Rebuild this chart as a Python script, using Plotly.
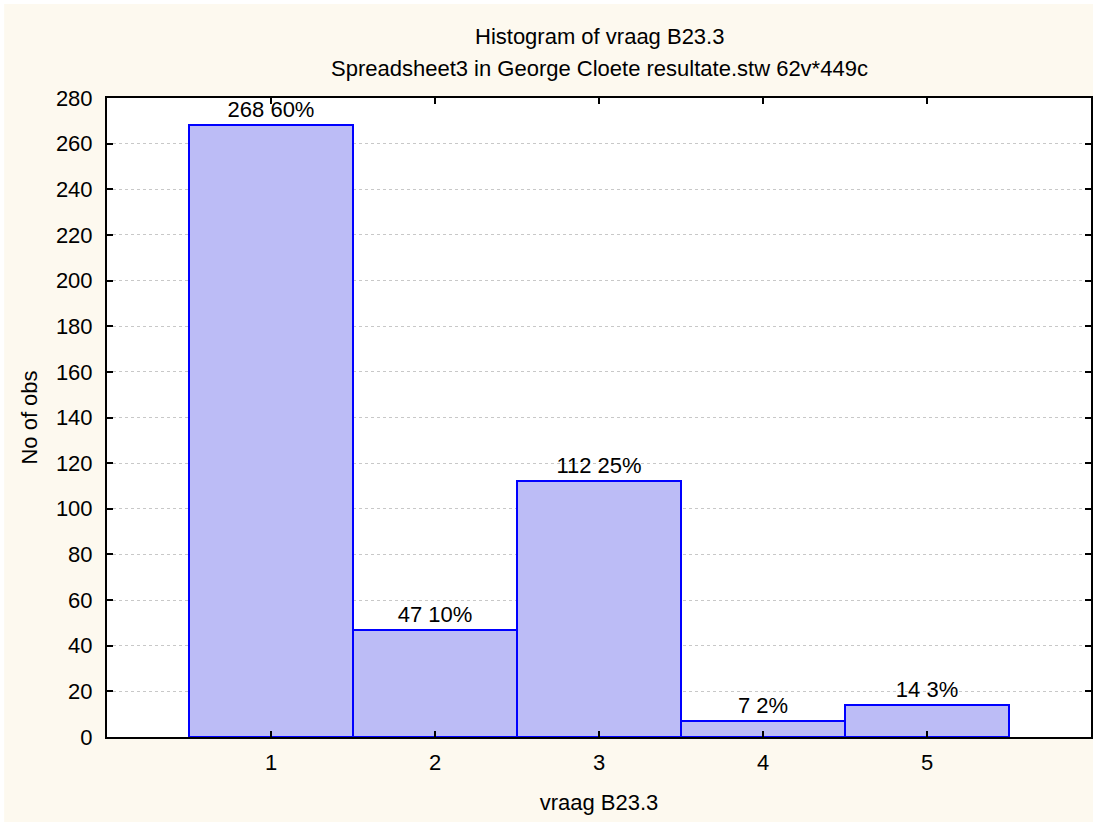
import plotly.graph_objects as go

categories = [1, 2, 3, 4, 5]
counts = [268, 47, 112, 7, 14]
percents = [60, 10, 25, 2, 3]
y_ticks = list(range(0, 281, 20))

labels = [f"{c} {p}%" for c, p in zip(counts, percents)]

FONT = "Arial, Liberation Sans, sans-serif"
CREAM = "#FDF9EF"
FS = 22

fig = go.Figure()
fig.add_trace(go.Bar(
    x=categories, y=counts, width=1,
    marker=dict(color="#BCBCF6", line=dict(color="#0000FF", width=2)),
    text=labels, textposition="outside", cliponaxis=False,
    textfont=dict(family=FONT, size=FS, color="black"),
))

axis_common = dict(
    showline=True, linecolor="black", linewidth=2, mirror="ticks",
    ticks="inside", ticklen=6, tickwidth=2, tickcolor="black",
    tickfont=dict(family=FONT, size=FS, color="black"),
    zeroline=False,
)

fig.update_xaxes(range=[0, 6], tickvals=categories, showgrid=False,
                 ticklabelstandoff=5,
                 title=dict(text="vraag B23.3", font=dict(family=FONT, size=FS, color="black"), standoff=20),
                 **axis_common)
fig.update_yaxes(range=[0, 280], tickvals=y_ticks, showgrid=True,
                 gridcolor="#C8C8C8", griddash="dot", gridwidth=1,
                 ticklabelstandoff=8,
                 title=dict(text="No of obs", font=dict(family=FONT, size=FS, color="black"), standoff=12),
                 **axis_common)

fig.add_shape(type="rect", xref="paper", yref="paper", layer="below",
              x0=-0.1045, x1=1.002, y0=-0.133, y1=1.147,
              fillcolor=CREAM, line=dict(width=0))
fig.add_shape(type="rect", xref="paper", yref="paper", layer="below",
              x0=0, x1=1, y0=0, y1=1,
              fillcolor="white", line=dict(width=0))

fig.add_annotation(text="Histogram of vraag B23.3", xref="paper", yref="paper",
                   x=0.5, y=(737 - 37) / 639, xanchor="center", yanchor="middle",
                   showarrow=False, font=dict(family=FONT, size=FS, color="black"))
fig.add_annotation(text="Spreadsheet3 in George Cloete resultate.stw 62v*449c", xref="paper", yref="paper",
                   x=0.5, y=(737 - 68) / 639, xanchor="center", yanchor="middle",
                   showarrow=False, font=dict(family=FONT, size=FS, color="black"))

fig.update_layout(
    width=1099, height=826,
    margin=dict(l=107, r=6, t=98, b=89),
    paper_bgcolor="white", plot_bgcolor="white",
    showlegend=False, bargap=0,
)

fig.write_html("out.html", config={"displayModeBar": False},
               post_script="document.body.style.margin='0';")
